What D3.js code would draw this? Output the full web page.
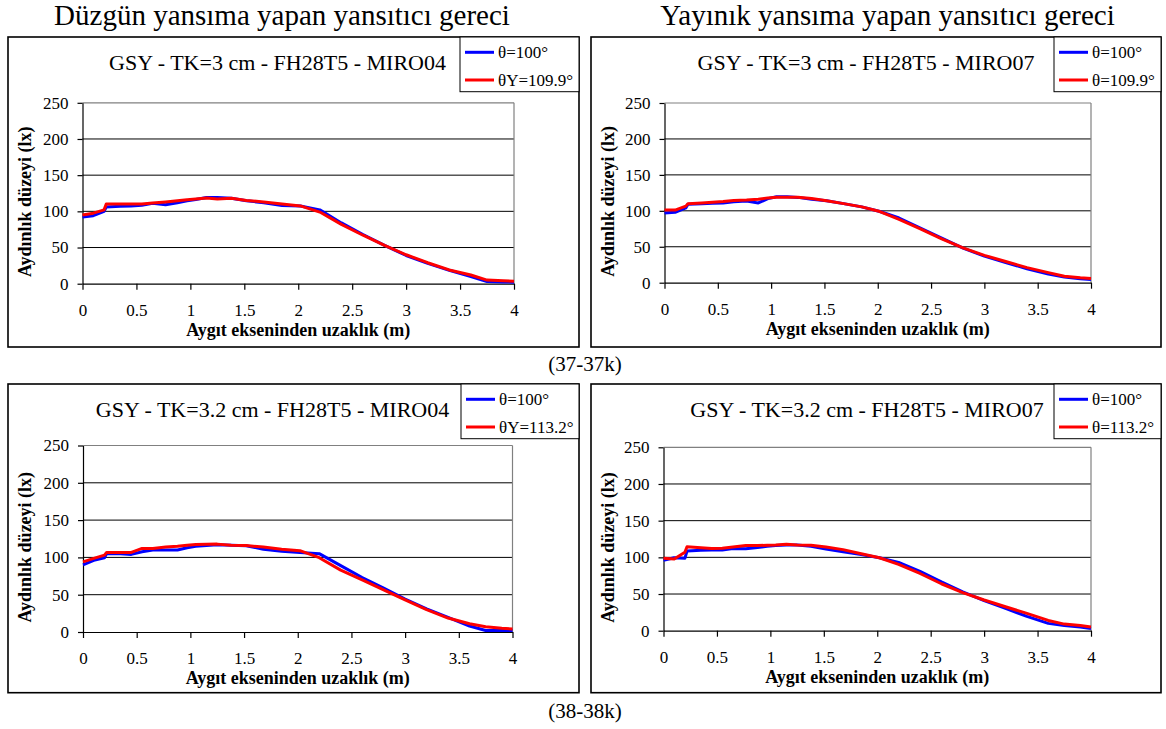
<!DOCTYPE html>
<html><head><meta charset="utf-8">
<script src="https://cdn.jsdelivr.net/npm/d3@7"></script>
<style>
html,body{margin:0;padding:0;background:#fff;}
svg{display:block;font-family:"Liberation Serif","Times New Roman",serif;}
</style></head><body>
<svg id="chart" width="1166" height="729"></svg>
<script>
// ---------- data ----------
const distance = [0, 0.1, 0.2, 0.22, 0.35, 0.45, 0.55, 0.65, 0.77, 0.88, 0.97, 1.05, 1.15, 1.25, 1.38, 1.52, 1.68, 1.85, 2.02, 2.2, 2.4, 2.6, 2.8, 3.0, 3.2, 3.4, 3.6, 3.75, 3.9, 4.0];

const p1Blue = [92, 94, 100, 106, 107, 107.5, 108.5, 111, 109, 112, 114.5, 116.5, 119, 119, 118, 114.5, 112, 108, 107.5, 102, 84, 68, 53, 39, 28, 18.5, 10, 3, 2.5, 2];
const p1Red  = [95, 97.5, 102, 110, 110, 110, 110, 111.5, 113, 114.5, 116, 117, 118.5, 117, 118, 115, 113, 110, 107.5, 99, 82, 67, 53, 40, 29, 19, 12, 5, 4, 3.5];

const p2Blue = [97, 98, 104, 109, 110, 110.5, 111, 112.5, 113.5, 111, 117, 119.5, 119.5, 118.7, 116, 114, 110, 105.5, 99, 90, 76, 62, 48, 37, 28, 19.5, 12, 8, 5.5, 4.5];
const p2Red  = [101, 101, 106.5, 110, 111, 112, 113, 114.5, 115, 116, 118, 119, 119, 119, 117, 114, 110, 105.5, 99, 88, 75, 61, 48.5, 38, 29.5, 21, 14, 9, 7, 6];

const p3Blue = [90, 96, 99.5, 105, 105, 104, 107.5, 110, 110, 110, 113, 115, 116, 117, 116.4, 115.6, 111, 108.4, 106.7, 105, 89, 73, 58.7, 44, 31, 19.6, 8, 2, 2, 2];
const p3Red  = [94, 98.7, 103, 106.7, 106.7, 106.7, 112, 112, 113.8, 115, 116.4, 117.3, 117.6, 117.8, 116.4, 116, 113.8, 111, 109, 99.6, 83, 70, 56.4, 43, 30, 18.7, 11, 7, 5, 4];

const p4Blue = [96, 99.5, 98.6, 108.6, 109.5, 110, 110, 112, 111.8, 113.5, 115, 116, 116.8, 116.8, 115, 111.4, 107.7, 104, 99.5, 93, 81, 66.5, 53, 41, 30.5, 19.5, 10, 7, 5, 3];
const p4Red  = [98.6, 97.7, 107, 114.5, 113, 112, 112.5, 114, 116, 116, 116.5, 116.8, 118, 116.8, 116.4, 114, 110.5, 105, 99.5, 90.5, 78, 64, 52, 41.8, 32.7, 23.6, 14, 9, 7, 5];

const xTickValues = [0, 0.5, 1, 1.5, 2, 2.5, 3, 3.5, 4];
const xTickLabels = ["0", "0.5", "1", "1.5", "2", "2.5", "3", "3.5", "4"];
const yTickValues = [0, 50, 100, 150, 200, 250];
const yTickLabels = ["0", "50", "100", "150", "200", "250"];

const headings = ["Düzgün yansıma yapan yansıtıcı gereci", "Yayınık yansıma yapan yansıtıcı gereci"];
const panelTitles = ["GSY - TK=3 cm - FH28T5 - MIRO04", "GSY - TK=3 cm - FH28T5 - MIRO07",
                     "GSY - TK=3.2 cm - FH28T5 - MIRO04", "GSY - TK=3.2 cm - FH28T5 - MIRO07"];
const blueLabels = ["θ=100°", "θ=100°", "θ=100°", "θ=100°"];
const redLabels = ["θY=109.9°", "θ=109.9°", "θY=113.2°", "θ=113.2°"];
const groupLabels = ["(37-37k)", "(38-38k)"];
const yAxisTitle = "Aydınlık düzeyi (lx)";
const xAxisTitle = "Aygıt ekseninden uzaklık (m)";

const blueSeries = [p1Blue, p2Blue, p3Blue, p4Blue];
const redSeries = [p1Red, p2Red, p3Red, p4Red];

// ---------- layout ----------
const layout = [
  {box: [8, 37, 579, 347],     plot: [82.5, 514, 102.8, 283.7], legendX: 460,  titleX: 277.5},
  {box: [591, 37, 1161, 347],  plot: [664.5, 1091, 103, 282.7], legendX: 1054, titleX: 866},
  {box: [8, 384, 579, 692.7],  plot: [83, 512.5, 445.5, 632],   legendX: 461,  titleX: 272.5},
  {box: [591, 384, 1161, 692.7], plot: [663.5, 1091, 447.3, 630.7], legendX: 1054, titleX: 867}
];

const FONT = '"Liberation Serif","Times New Roman",serif';
const svg = d3.select("#chart");
svg.append("rect").attr("width", 1166).attr("height", 729).attr("fill", "#fff");

// headings
svg.append("text").attr("x", 282).attr("y", 25).attr("text-anchor", "middle")
  .attr("font-size", 29).attr("fill", "#000").text(headings[0]);
svg.append("text").attr("x", 887.5).attr("y", 25).attr("text-anchor", "middle")
  .attr("font-size", 29).attr("fill", "#000").text(headings[1]);

// group labels
svg.append("text").attr("x", 585).attr("y", 371).attr("text-anchor", "middle")
  .attr("font-size", 21).attr("fill", "#000").text(groupLabels[0]);
svg.append("text").attr("x", 585).attr("y", 717.5).attr("text-anchor", "middle")
  .attr("font-size", 21).attr("fill", "#000").text(groupLabels[1]);

layout.forEach((L, i) => {
  const [bx0, by0, bx1, by1] = L.box;
  const [px0, px1, pyTop, pyBot] = L.plot;
  const g = svg.append("g");

  // outer box
  g.append("rect").attr("x", bx0).attr("y", by0).attr("width", bx1 - bx0).attr("height", by1 - by0)
    .attr("fill", "#fff").attr("stroke", "#000").attr("stroke-width", 1.6);

  const x = d3.scaleLinear().domain([0, 4]).range([px0, px1]);
  const y = d3.scaleLinear().domain([0, 250]).range([pyBot, pyTop]);

  // gridlines
  g.append("g").selectAll("line").data(yTickValues.filter(v => v > 0 && v < 250)).join("line")
    .attr("x1", px0).attr("x2", px1).attr("y1", d => y(d)).attr("y2", d => y(d))
    .attr("stroke", "#000").attr("stroke-width", 1);
  // plot area border top/right
  g.append("line").attr("x1", px0).attr("x2", px1).attr("y1", y(250)).attr("y2", y(250))
    .attr("stroke", "#808080").attr("stroke-width", 1.2);
  g.append("line").attr("x1", px1).attr("x2", px1).attr("y1", y(250)).attr("y2", y(0))
    .attr("stroke", "#808080").attr("stroke-width", 1.2);

  // y axis
  const yAxis = d3.axisLeft(y).tickValues(yTickValues).tickFormat((d, k) => yTickLabels[k])
    .tickSize(5).tickSizeOuter(0).tickPadding(9);
  const ya = g.append("g").attr("transform", `translate(${px0},0)`).call(yAxis);
  ya.attr("font-family", FONT);
  ya.selectAll("text").attr("font-size", 17).attr("fill", "#000").attr("font-family", FONT);
  ya.selectAll("line,path").attr("stroke", "#000").attr("stroke-width", 1.2);

  // x axis
  const xAxis = d3.axisBottom(x).tickValues(xTickValues).tickFormat((d, k) => xTickLabels[k])
    .tickSize(6).tickSizeOuter(0).tickPadding(14);
  const xa = g.append("g").attr("transform", `translate(0,${pyBot})`).call(xAxis);
  xa.attr("font-family", FONT);
  xa.selectAll("text").attr("font-size", 17).attr("fill", "#000").attr("font-family", FONT);
  xa.selectAll("line,path").attr("stroke", "#000").attr("stroke-width", 1.2);

  // series
  const line = d3.line().x(d => x(d[0])).y(d => y(d[1]));
  g.append("path").datum(d3.zip(distance, blueSeries[i])).attr("d", line)
    .attr("fill", "none").attr("stroke", "#0000ff").attr("stroke-width", 3)
    .attr("stroke-linejoin", "round");
  g.append("path").datum(d3.zip(distance, redSeries[i])).attr("d", line)
    .attr("fill", "none").attr("stroke", "#ff0000").attr("stroke-width", 3)
    .attr("stroke-linejoin", "round");

  // title
  g.append("text").attr("x", L.titleX).attr("y", by0 + 32.5).attr("text-anchor", "middle")
    .attr("font-size", 22).attr("fill", "#000").text(panelTitles[i]);

  // axis titles
  g.append("text").attr("x", (px0 + px1) / 2).attr("y", pyBot + 52).attr("text-anchor", "middle")
    .attr("font-size", 18).attr("font-weight", "bold").attr("fill", "#000").text(xAxisTitle);
  const yc = (pyTop + pyBot) / 2 + 8.5;
  g.append("text").attr("transform", `translate(${bx0 + 23},${yc}) rotate(-90)`)
    .attr("text-anchor", "middle").attr("font-size", 18).attr("font-weight", "bold")
    .attr("fill", "#000").text(yAxisTitle);

  // legend
  const lx = L.legendX;
  g.append("rect").attr("x", lx).attr("y", by0).attr("width", bx1 - lx).attr("height", 54.7)
    .attr("fill", "#fff").attr("stroke", "#000").attr("stroke-width", 1);
  const items = [{c: "#0000ff", t: blueLabels[i], dy: 15.3}, {c: "#ff0000", t: redLabels[i], dy: 43}];
  items.forEach(it => {
    g.append("line").attr("x1", lx + 5).attr("x2", lx + 34).attr("y1", by0 + it.dy).attr("y2", by0 + it.dy)
      .attr("stroke", it.c).attr("stroke-width", 3);
    g.append("text").attr("x", lx + 38).attr("y", by0 + it.dy + 6).attr("font-size", 17)
      .attr("fill", "#000").text(it.t);
  });
});
</script>
</body></html>
